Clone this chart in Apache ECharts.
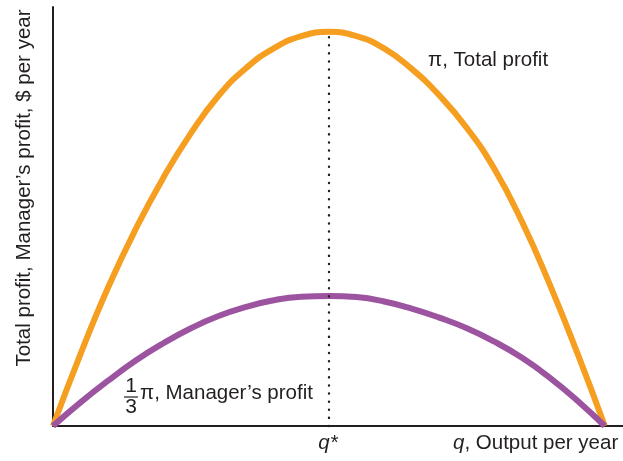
<!DOCTYPE html>
<html>
<head>
<meta charset="utf-8">
<script src="https://cdn.jsdelivr.net/npm/echarts@6/dist/echarts.min.js"></script>
<style>
    html, body { margin: 0; padding: 0; background: #fff; }
    #chart { width: 623px; height: 461px; }
</style>
</head>
<body>
<div id="chart"></div>
<script>
// output q (arbitrary units, q* = 50)
const outputQ = [0, 5, 10, 15, 20, 25, 30, 35, 40, 45, 50, 55, 60, 65, 70, 75, 80, 85, 90, 95, 100]
// π, total profit
const totalProfit = [0, 18.3, 35.2, 50, 63, 74.3, 83.8, 90.8, 95.8, 98.9, 100, 98.9, 95.8, 90.6, 83.9, 75.6, 65.2, 51.8, 36, 18.6, 0]
// 1/3 π, manager's profit
const managerProfit = [0, 6, 11.5, 16.6, 21, 24.8, 27.9, 30.2, 31.9, 32.8, 33, 32.7, 31.6, 29.8, 27.5, 24.8, 21.4, 17.3, 12.3, 6.5, 0]
const qStar = 50

const textColor = '#231f20'
const font = "'Liberation Sans', Arial, sans-serif"

const chart = echarts.init(document.getElementById('chart'))

const toPairs = vals => outputQ.map((q, i) => [q, vals[i]])

const option = {
    animation: false,
    grid: {
        left: 53,
        right: 0,
        top: 7,
        bottom: 35
    },
    xAxis: {
        type: 'value',
        min: 0,
        max: 103.3,
        axisLine: { show: true, onZero: false, lineStyle: { color: textColor, width: 2 } },
        axisTick: { show: false },
        axisLabel: { show: false },
        splitLine: { show: false }
    },
    yAxis: {
        type: 'value',
        min: 0,
        max: 106.3,
        axisLine: { show: true, onZero: false, lineStyle: { color: textColor, width: 2 } },
        axisTick: { show: false },
        axisLabel: { show: false },
        splitLine: { show: false }
    },
    series: [
        {
            name: 'π, Total profit',
            type: 'line',
            smooth: 0.5,
            showSymbol: false,
            data: toPairs(totalProfit),
            lineStyle: { color: '#f59e1f', width: 6 },
            markLine: {
                silent: true,
                symbol: 'none',
                label: { show: false },
                lineStyle: { color: textColor, type: [0.1, 8], width: 2.4, cap: 'round' },
                data: [[{ coord: [qStar, 0] }, { coord: [qStar, totalProfit[outputQ.indexOf(qStar)]] }]]
            },
            z: 2
        },
        {
            name: '1/3 π, Manager\'s profit',
            type: 'line',
            smooth: 0.5,
            showSymbol: false,
            data: toPairs(managerProfit),
            lineStyle: { color: '#9c53a0', width: 6 },
            z: 3
        }
    ],
    graphic: [
        {
            type: 'text',
            x: 24,
            y: 188,
            rotation: Math.PI / 2,
            style: {
                text: 'Total profit, Manager\u2019s profit, $ per year',
                font: '20.5px ' + font,
                fill: textColor,
                align: 'center',
                verticalAlign: 'middle'
            }
        },
        {
            type: 'text',
            x: 428,
            y: 60,
            style: { text: 'π, Total profit', font: '20.5px ' + font, fill: textColor, verticalAlign: 'middle' }
        },
        {
            type: 'text',
            x: 131,
            y: 397,
            style: { text: '1', font: '21px ' + font, fill: textColor, align: 'center', verticalAlign: 'bottom' }
        },
        {
            type: 'line',
            shape: { x1: 124, y1: 397, x2: 138, y2: 397 },
            style: { stroke: textColor, lineWidth: 1.2 }
        },
        {
            type: 'text',
            x: 131,
            y: 397,
            style: { text: '3', font: '21px ' + font, fill: textColor, align: 'center', verticalAlign: 'top' }
        },
        {
            type: 'text',
            x: 140,
            y: 393,
            style: { text: 'π, Manager\u2019s profit', font: '20.5px ' + font, fill: textColor, verticalAlign: 'middle' }
        },
        {
            type: 'text',
            x: 328,
            y: 443,
            style: { text: 'q*', font: 'italic 20.5px ' + font, fill: textColor, align: 'center', verticalAlign: 'middle' }
        },
        {
            type: 'text',
            x: 453,
            y: 443,
            style: {
                text: '{i|q}, Output per year',
                font: '20.5px ' + font,
                fill: textColor,
                verticalAlign: 'middle',
                rich: { i: { fontStyle: 'italic', fontSize: 20.5, fontFamily: font, fill: textColor } }
            }
        }
    ]
}

chart.setOption(option)
</script>
</body>
</html>
